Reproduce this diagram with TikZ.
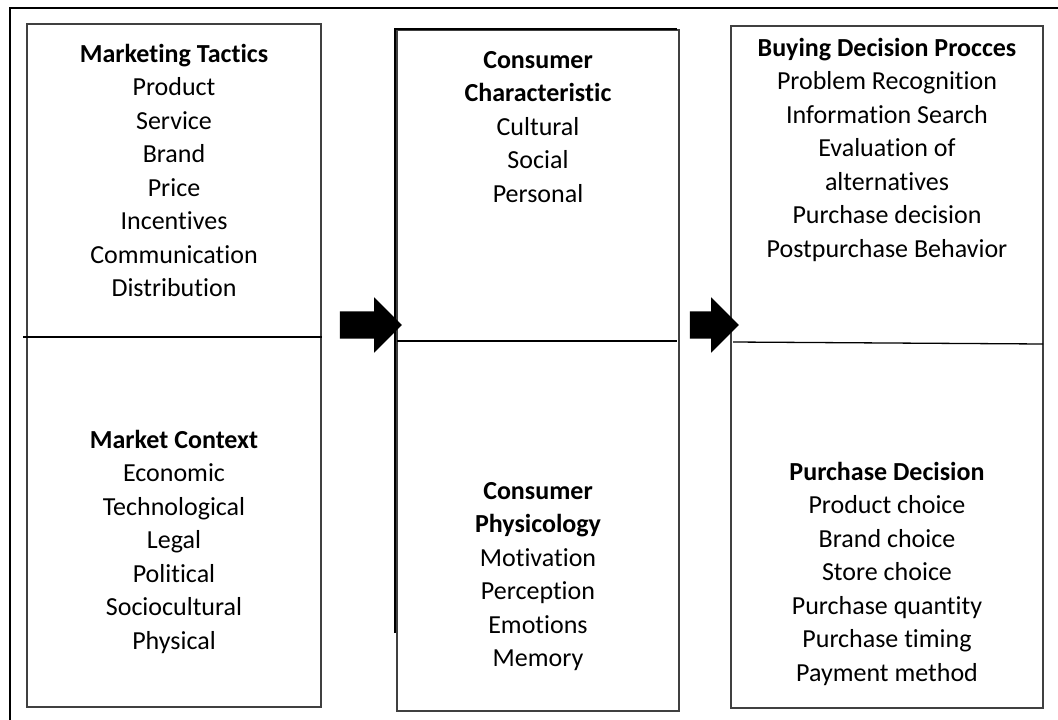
\documentclass[tikz,border=0pt]{standalone}
\usepackage{fontspec}
\setmainfont{Carlito}[Ligatures={NoCommon}]
\usepackage{tikz}
\usetikzlibrary{shapes.arrows, positioning}
\definecolor{boxgray}{HTML}{404040}
\tikzset{
	panel/.style={
		draw=boxgray,
		line width=1.3pt
	},
	heavy/.style={
		draw=black,
		line width=2.6pt
	},
	divider/.style={
		draw=black,
		line width=1.3pt
	},
	itemlist/.style={
		anchor=north,
		inner sep=0pt,
		align=center,
		font=\fontsize{26}{33.5}\selectfont
	},
	blockarrow/.style={
		single arrow,
		fill=black,
		draw=none,
		inner xsep=0pt,
		inner ysep=13.5pt,
		single arrow head extend=14pt,
		single arrow head indent=0pt,
		minimum height=62pt
	}
}

\begin{document}
\begin{tikzpicture}[x=1pt, y=-1pt]
				\useasboundingbox (0,0) rectangle (1058,720);
				% outer frame
				\draw [line width=2pt] (10,725) -- (10,8) -- (1065,8);
				
				% left column
				\draw [panel] (27,24) rectangle (321,707);
				\draw [divider] (23,337) -- (322,337);
				\node (tactics) [itemlist] at (174,44) {\textbf{Marketing Tactics}\\Product\\Service\\Brand\\Price\\Incentives\\Communication\\Distribution};
				\node (context) [itemlist] at (174,430) {\textbf{Market Context}\\Economic\\Technological\\Legal\\Political\\Sociocultural\\Physical};
				
				% middle column
				\draw [panel] (397,30) rectangle (679,711);
				\draw [heavy] (395,633) -- (395,29) -- (677,29);
				\draw [divider] (397,341) -- (677,341);
				\node (charac) [itemlist] at (538,51) {\textbf{Consumer}\\\textbf{Characteristic}\\Cultural\\Social\\Personal};
				\node (psych) [itemlist] at (538,482) {\textbf{Consumer}\\\textbf{Physicology}\\Motivation\\Perception\\Emotions\\Memory};
				
				% right column
				\draw [panel] (731,26) rectangle (1043,708);
				\draw [divider] (733,342) -- (1043,344);
				\node (process) [itemlist] at (887,38) {\textbf{Buying Decision Procces}\\Problem Recognition\\Information Search\\Evaluation of\\alternatives\\Purchase decision\\Postpurchase Behavior};
				\node (decision) [itemlist] at (887,462) {\textbf{Purchase Decision}\\Product choice\\Brand choice\\Store choice\\Purchase quantity\\Purchase timing\\Payment method};
				
				% block arrows
				\node (arrowA) [blockarrow] at (364,325) {};
				\node (arrowB) [blockarrow, minimum height=49pt] at (707.5,325) {};
			\end{tikzpicture}
\end{document}
